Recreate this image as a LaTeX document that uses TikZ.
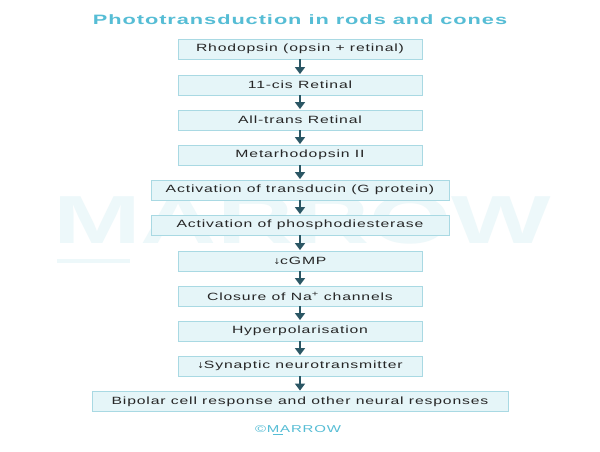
\documentclass[tikz,border=0pt]{standalone}
\usepackage{fontspec}
\setmainfont{Liberation Sans}[FakeStretch=1.5,LetterSpace=8]
\newfontfamily\titlefont{Liberation Sans}[FakeStretch=1.6,LetterSpace=7]
\newfontfamily\wmfont{Liberation Sans}[FakeStretch=1.55]
\newfontfamily\symfont{DejaVu Sans}
\usetikzlibrary{arrows.meta}
\definecolor{boxfill}{HTML}{E5F5F8}
\definecolor{boxline}{HTML}{A9D9E3}
\definecolor{arrowc}{HTML}{2B5664}
\definecolor{titlec}{HTML}{56BDD5}
\definecolor{wmark}{HTML}{EDF8FA}
\definecolor{textc}{HTML}{262626}
\begin{document}
\begin{tikzpicture}[x=1pt,y=-1pt,
  stepbox/.style={draw=boxline,fill=boxfill,line width=0.9pt,minimum height=20pt,
    inner sep=0pt,font=\fontsize{10.5}{12}\selectfont,text=textc},
  flow/.style={draw=arrowc,line width=2.2pt,-{Triangle[length=7pt,width=10pt]},shorten >=0.5pt}]
\useasboundingbox (0,0) rectangle (600,451);
\fill[white] (0,0) rectangle (600,451);
% watermark
\node[text=wmark,font=\wmfont\bfseries\fontsize{68}{70}\selectfont,inner sep=0pt] (wm) at (302,220) {MARROW};
\fill[wmark] (57,259) rectangle (130,263);
\node[text=titlec,font=\titlefont\bfseries\fontsize{13.6}{15}\selectfont,inner sep=0pt] (title) at (300,20) {Phototransduction in rods and cones};
\node[stepbox,minimum width=244pt] (b1) at (300,49) {Rhodopsin (opsin + retinal)};
\node[stepbox,minimum width=244pt] (b2) at (300,85) {11-cis Retinal};
\node[stepbox,minimum width=244pt] (b3) at (300,120) {All-trans Retinal};
\node[stepbox,minimum width=244pt] (b4) at (300,155) {Metarhodopsin II};
\node[stepbox,minimum width=298pt] (b5) at (300,190) {Activation of transducin (G protein)};
\node[stepbox,minimum width=298pt] (b6) at (300,225) {Activation of phosphodiesterase};
\node[stepbox,minimum width=244pt] (b7) at (300,261) {{\symfont\fontsize{8}{10}\selectfont ↓}cGMP};
\node[stepbox,minimum width=244pt] (b8) at (300,296) {Closure of Na\textsuperscript{+} channels};
\node[stepbox,minimum width=244pt] (b9) at (300,331) {Hyperpolarisation};
\node[stepbox,minimum width=244pt] (b10) at (300,366) {{\symfont\fontsize{8}{10}\selectfont ↓}Synaptic neurotransmitter};
\node[stepbox,minimum width=416pt] (b11) at (300,401.5) {Bipolar cell response and other neural responses};
\foreach \a/\b in {b1/b2,b2/b3,b3/b4,b4/b5,b5/b6,b6/b7,b7/b8,b8/b9,b9/b10,b10/b11}
  \draw[flow] (\a.south) -- (\b.north);
\node[text=titlec,font=\fontsize{10}{12}\selectfont,inner sep=0pt] (logo) at (298,429) {©MARROW};
\draw[titlec,line width=0.8pt] ([xshift=18pt,yshift=-5.5pt]logo.west) -- ++(10,0);
\end{tikzpicture}
\end{document}
